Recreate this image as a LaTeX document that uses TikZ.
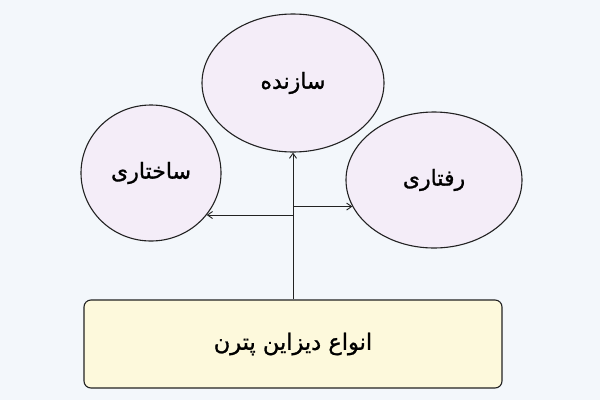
\documentclass[tikz,border=0pt]{standalone}
\usepackage{fontspec}
\usetikzlibrary{arrows.meta,shapes.geometric}
\TeXXeTstate=1
\newfontfamily\arabicfont[Script=Arabic,FakeBold=1.2]{DejaVu Sans}
\definecolor{bg}{HTML}{F3F7FB}
\definecolor{bubfill}{HTML}{F4EDF8}
\definecolor{boxfill}{HTML}{FDF9DC}
\definecolor{ink}{HTML}{222222}
\tikzset{
  bub/.style={ellipse, draw=ink, line width=1.1pt, fill=bubfill, inner sep=0pt,
    font=\arabicfont\fontsize{22}{26}\selectfont},
  basebox/.style={rectangle, rounded corners=7pt, draw=ink, line width=1.1pt, fill=boxfill,
    minimum width=418pt, minimum height=88pt, inner sep=0pt,
    font=\arabicfont\fontsize{22.5}{26}\selectfont},
  arr/.style={draw=ink, line width=0.9pt, -{Straight Barb[length=5pt,width=7pt]}}
}
\begin{document}
\begin{tikzpicture}[x=1pt,y=-1pt]
\fill[bg] (0,0) rectangle (600,400);
\useasboundingbox (0,0) rectangle (600,400);
\node[bub, minimum width=182pt, minimum height=138pt] (top) at (293,83) {\beginR سازنده\endR};
\node[bub, minimum width=140pt, minimum height=136pt] (left) at (151,173) {\beginR ساختاری\endR};
\node[bub, minimum width=176pt, minimum height=136pt] (right) at (434,180) {\beginR رفتاری\endR};
\node[basebox] (box) at (293,344) {\beginR انواع دیزاین پترن\endR};
\draw[arr] (box.north) -- (top.south);
\draw[arr] (box.north |- left.-37) -- (left.-37);
\draw[arr] (box.north |- right.198) -- (right.198);
\end{tikzpicture}
\end{document}
